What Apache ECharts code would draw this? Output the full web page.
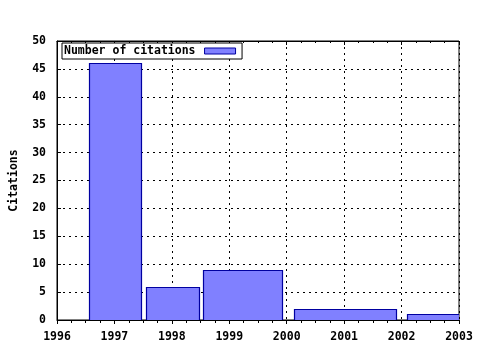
<!DOCTYPE html>
<html>
<head>
<meta charset="utf-8">
<script src="https://cdn.jsdelivr.net/npm/echarts@6/dist/echarts.min.js"></script>
<style>html,body{margin:0;padding:0;background:#fff}#c{width:480px;height:350px}</style>
</head>
<body>
<div id="c"></div>
<script>
// Bins (year ranges) and citation counts
const binStart = [1996.56, 1997.55, 1998.55, 2000.12, 2002.1];
const binEnd   = [1997.46, 1998.47, 1999.91, 2001.91, 2003.0];
const citations = [46, 6, 9, 2, 1];
const xTicks = [1996, 1997, 1998, 1999, 2000, 2001, 2002, 2003];
const yTicks = [0, 5, 10, 15, 20, 25, 30, 35, 40, 45, 50];
const seriesName = 'Number of citations';
const yTitle = 'Citations';

const font = '"DejaVu Sans Mono", "Liberation Mono", monospace';
const data = citations.map((v, i) => [binStart[i], binEnd[i], v]);

const chart = echarts.init(document.getElementById('c'), null, {renderer: 'canvas'});
chart.setOption({
  backgroundColor: '#fff',
  animation: false,
  grid: {left: 57, right: 21, top: 41, bottom: 30, containLabel: false, outerBoundsMode: 'none',
    show: true, borderColor: '#000', borderWidth: 1, backgroundColor: 'transparent'},
  legend: {
    show: true, left: 62, top: 43, align: 'right',
    backgroundColor: '#fff',
    borderColor: '#000', borderWidth: 1, padding: [2, 6, 2, 2],
    itemWidth: 31, itemHeight: 6, itemGap: 0,
    textStyle: {fontFamily: font, fontWeight: 'bold', fontSize: 11.5, color: '#000', padding: [0, 4, 0, 0]},
    data: [{name: seriesName, icon: 'rect', itemStyle: {color: '#8080ff', borderColor: '#0000a0', borderWidth: 1}}]
  },
  xAxis: [{
    type: 'value', min: xTicks[0], max: xTicks[xTicks.length - 1], interval: 1,
    axisLine: {show: true, lineStyle: {color: '#000', width: 1}},
    axisTick: {show: true, inside: false, length: 4, lineStyle: {color: '#000'}},
    minorTick: {show: true, splitNumber: 4, length: 3, lineStyle: {color: '#000'}},
    splitLine: {show: true, lineStyle: {color: '#000', type: [2, 4], width: 1}},
    axisLabel: {fontFamily: font, fontWeight: 'bold', fontSize: 11.5, color: '#000', margin: 11,
      formatter: v => String(Math.round(v))}
  }, {
    type: 'value', position: 'top', min: xTicks[0], max: xTicks[xTicks.length - 1], interval: 1,
    axisLine: {show: true, lineStyle: {color: '#000'}},
    axisTick: {show: true, inside: true, length: 4, lineStyle: {color: '#000'}},
    minorTick: {show: true, splitNumber: 4, length: 2, lineStyle: {color: '#000'}},
    splitLine: {show: false}, axisLabel: {show: false}
  }],
  yAxis: {
    type: 'value', min: yTicks[0], max: yTicks[yTicks.length - 1], interval: 5,
    name: yTitle, nameLocation: 'middle', nameRotate: 90, nameGap: 37,
    nameTextStyle: {fontFamily: font, fontWeight: 'bold', fontSize: 11.5, color: '#000'},
    axisLine: {show: true, lineStyle: {color: '#000'}},
    axisTick: {show: true, inside: true, length: 4, lineStyle: {color: '#000'}},
    splitLine: {show: true, lineStyle: {color: '#000', type: [2, 4], width: 1}},
    axisLabel: {fontFamily: font, fontWeight: 'bold', fontSize: 11.5, color: '#000', margin: 11}
  },
  series: [{
    name: seriesName,
    type: 'custom',
    clip: true,
    itemStyle: {color: '#8080ff', borderColor: '#0000a0'},
    encode: {x: [0, 1], y: 2},
    data: data,
    renderItem: function (params, api) {
      const p0 = api.coord([api.value(0), api.value(2)]);
      const p1 = api.coord([api.value(1), 0]);
      const cs = params.coordSys;
      let x0 = Math.round(p0[0]) + 0.5, x1 = Math.round(Math.min(p1[0], cs.x + cs.width)) + 0.5;
      let y0 = Math.round(p0[1]) + 0.5, y1 = Math.round(p1[1]) + 0.5;
      return {
        type: 'rect',
        shape: {x: x0, y: y0, width: x1 - x0, height: y1 - y0},
        style: {fill: '#8080ff', stroke: '#0000a0', lineWidth: 1.2}
      };
    }
  }]
});
</script>
</body>
</html>
